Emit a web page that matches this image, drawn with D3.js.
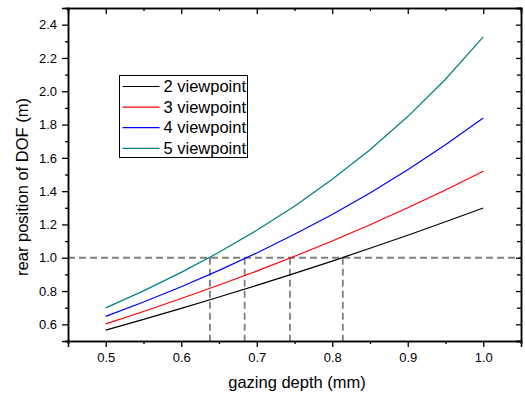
<!DOCTYPE html>
<html>
<head>
<meta charset="utf-8">
<script src="https://cdn.jsdelivr.net/npm/d3@7"></script>
<style>
  body { margin: 0; background: #fff; }
  svg { font-family: "Liberation Sans", Arial, sans-serif; }
</style>
</head>
<body>
<div id="chart"></div>
<script>
// gazing depth (mm)
const depth = [0.5, 0.55, 0.6, 0.65, 0.7, 0.75, 0.8, 0.85, 0.9, 0.95, 1.0];

// rear position of DOF (m)
const view2 = [0.565, 0.630, 0.696, 0.764, 0.834, 0.906, 0.980, 1.057, 1.135, 1.216, 1.299];
const view3 = [0.603, 0.677, 0.755, 0.836, 0.920, 1.009, 1.101, 1.198, 1.300, 1.407, 1.520];
const view4 = [0.648, 0.734, 0.826, 0.924, 1.029, 1.141, 1.260, 1.389, 1.528, 1.678, 1.840];
const view5 = [0.699, 0.801, 0.912, 1.033, 1.165, 1.310, 1.471, 1.649, 1.848, 2.072, 2.326];

const seriesNames = ["2 viewpoint", "3 viewpoint", "4 viewpoint", "5 viewpoint"];
const seriesColors = ["#000000", "#ff0000", "#0000ff", "#008080"];

// depth where each curve crosses 1.0 m
const refLevel = 1.0;
const crossDepth = [0.638, 0.684, 0.744, 0.814];

const xMajor = [0.5, 0.6, 0.7, 0.8, 0.9, 1.0];
const xMinor = [0.45, 0.55, 0.65, 0.75, 0.85, 0.95, 1.05];
const yMajor = [0.6, 0.8, 1.0, 1.2, 1.4, 1.6, 1.8, 2.0, 2.2, 2.4];
const yMinor = [0.5, 0.7, 0.9, 1.1, 1.3, 1.5, 1.7, 1.9, 2.1, 2.3, 2.5];

const width = 525, height = 398;
const margin = {top: 8, right: 4, bottom: 57, left: 68};

const svg = d3.select("#chart").append("svg")
  .attr("width", width)
  .attr("height", height);

const x = d3.scaleLinear().domain([0.45, 1.05]).range([margin.left, width - margin.right]);
const y = d3.scaleLinear().domain([0.5, 2.5]).range([height - margin.bottom, margin.top]);

const fmt = d3.format(".1f");

// dashed reference lines
const dash = svg.append("g")
  .attr("stroke", "#808080")
  .attr("stroke-width", 1.8)
  .attr("stroke-dasharray", "7,4")
  .attr("fill", "none");

dash.append("line")
  .attr("x1", x(0.45)).attr("x2", x(1.05))
  .attr("y1", y(refLevel)).attr("y2", y(refLevel));

dash.selectAll("line.v")
  .data(crossDepth)
  .enter().append("line")
  .attr("class", "v")
  .attr("x1", d => x(d)).attr("x2", d => x(d))
  .attr("y1", y(refLevel)).attr("y2", y(0.5));

// curves
const allSeries = [view2, view3, view4, view5];
const line = d3.line()
  .x((d, i) => x(depth[i]))
  .y(d => y(d));

svg.append("g").selectAll("path")
  .data(allSeries)
  .enter().append("path")
  .attr("d", d => line(d))
  .attr("fill", "none")
  .attr("stroke", (d, i) => seriesColors[i])
  .attr("stroke-width", 1.2);

// axes
function styleAxis(g) {
  g.selectAll("path").attr("stroke", "#000").attr("stroke-width", 1.5);
  g.selectAll("line").attr("stroke", "#000").attr("stroke-width", 1.3);
  g.selectAll("text").attr("fill", "#000").attr("font-size", 13);
}

const bottom = height - margin.bottom;

svg.append("g")
  .attr("transform", `translate(0,${bottom})`)
  .call(d3.axisBottom(x).tickValues(xMinor).tickSize(3).tickFormat(""))
  .call(styleAxis);
svg.append("g")
  .attr("transform", `translate(0,${bottom})`)
  .call(d3.axisBottom(x).tickValues(xMajor).tickSize(6).tickPadding(6).tickFormat(fmt))
  .call(styleAxis);

svg.append("g")
  .attr("transform", `translate(0,${margin.top})`)
  .call(d3.axisBottom(x).tickValues(xMinor).tickSize(3).tickFormat(""))
  .call(styleAxis);
svg.append("g")
  .attr("transform", `translate(0,${margin.top})`)
  .call(d3.axisBottom(x).tickValues(xMajor).tickSize(6).tickFormat(""))
  .call(styleAxis);

svg.append("g")
  .attr("transform", `translate(${margin.left},0)`)
  .call(d3.axisLeft(y).tickValues(yMinor).tickSize(3).tickFormat(""))
  .call(styleAxis);
svg.append("g")
  .attr("transform", `translate(${margin.left},0)`)
  .call(d3.axisLeft(y).tickValues(yMajor).tickSize(6).tickPadding(5).tickFormat(fmt))
  .call(styleAxis);

svg.append("g")
  .attr("transform", `translate(${width - margin.right},0)`)
  .call(d3.axisLeft(y).tickValues(yMinor).tickSize(4).tickFormat(""))
  .call(styleAxis);
svg.append("g")
  .attr("transform", `translate(${width - margin.right},0)`)
  .call(d3.axisLeft(y).tickValues(yMajor).tickSize(5).tickFormat(""))
  .call(styleAxis);

// axis titles
svg.append("text")
  .attr("x", 297)
  .attr("y", 388)
  .attr("text-anchor", "middle")
  .attr("font-size", 16.5)
  .text("gazing depth (mm)");

svg.append("text")
  .attr("transform", "translate(28,187) rotate(-90)")
  .attr("text-anchor", "middle")
  .attr("font-size", 16.5)
  .text("rear position of DOF (m)");

// legend
const legend = svg.append("g").attr("transform", "translate(119.5,75.5)");
legend.append("rect")
  .attr("width", 128).attr("height", 82)
  .attr("fill", "#fff")
  .attr("stroke", "#000")
  .attr("stroke-width", 1);

const items = legend.selectAll("g.item")
  .data(seriesNames)
  .enter().append("g")
  .attr("class", "item")
  .attr("transform", (d, i) => `translate(0,${11 + i * 20.6})`);

items.append("line")
  .attr("x1", 3).attr("x2", 40)
  .attr("stroke", (d, i) => seriesColors[i])
  .attr("stroke-width", 1.2);

items.append("text")
  .attr("x", 44)
  .attr("dy", "0.35em")
  .attr("font-size", 16.5)
  .text(d => d);
</script>
</body>
</html>
